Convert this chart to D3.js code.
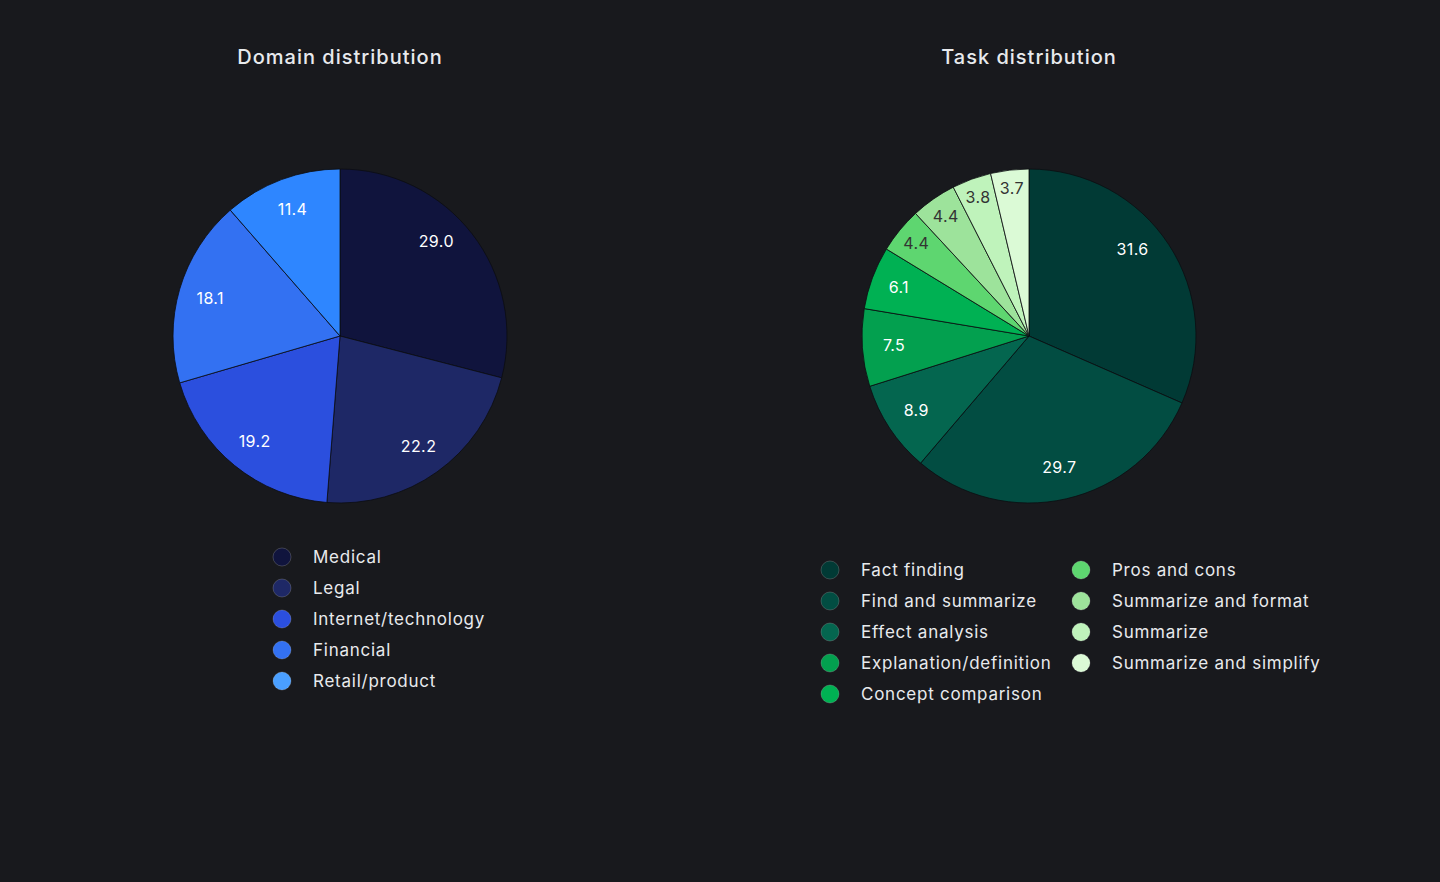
<!DOCTYPE html>
<html>
<head>
<meta charset="utf-8">
<script src="https://cdn.jsdelivr.net/npm/d3@7"></script>
<style>
  body { margin: 0; background: #18191d; }
  svg { display: block; }
  text { font-family: "Inter", "Noto Sans", sans-serif; }
</style>
</head>
<body>
<div id="chart"></div>
<script>
// Domain data
var domainNames = ["Medical", "Legal", "Internet/technology", "Financial", "Retail/product"];
var domainValues = [29.0, 22.2, 19.2, 18.1, 11.4];
var domainColors = ["#10143d", "#1e2866", "#2b4fde", "#3371f2", "#2e86ff"];

// Task data
var taskNames = ["Fact finding", "Find and summarize", "Effect analysis", "Explanation/definition",
  "Concept comparison", "Pros and cons", "Summarize and format", "Summarize", "Summarize and simplify"];
var taskValues = [31.6, 29.7, 8.9, 7.5, 6.1, 4.4, 4.4, 3.8, 3.7];
var taskColors = ["#013a35", "#024d42", "#04664f", "#03a04f", "#00b153", "#5ed670", "#9de39b", "#bff3bb", "#dbfad6"];

var svgWidth = 1440;
var svgHeight = 882;

var svg = d3.select("#chart")
  .append("svg")
  .attr("width", svgWidth)
  .attr("height", svgHeight);

var radius = 167;

function drawPie(cx, cy, title, names, values, colors) {
  var g = svg.append("g");

  g.append("text")
    .attr("x", cx)
    .attr("y", 64)
    .attr("text-anchor", "middle")
    .attr("fill", "#e8eaed")
    .attr("font-size", 20)
    .attr("font-weight", 500)
    .attr("letter-spacing", 1)
    .text(title);

  var pie = d3.pie().sort(null).value(d => d.value);
  var data = names.map((n, i) => ({ name: n, value: values[i], color: colors[i] }));
  var arcs = pie(data);

  var arc = d3.arc().innerRadius(0).outerRadius(radius);

  var pieGroup = g.append("g")
    .attr("transform", `translate(${cx}, ${cy})`);

  pieGroup.selectAll("path")
    .data(arcs)
    .enter()
    .append("path")
    .attr("d", arc)
    .attr("fill", d => d.data.color)
    .attr("stroke", "#0b0c10")
    .attr("stroke-width", 0.8);

  // labels: small slices pushed out a bit, big first slice pulled toward the top
  pieGroup.selectAll("text")
    .data(arcs)
    .enter()
    .append("text")
    .attr("transform", function (d, i) {
      var lr = radius * 0.81 + Math.max(0, 7 - d.data.value) * 4;
      var a = (d.startAngle + d.endAngle) / 2;
      if (i === 0) a -= 0.12;
      return `translate(${Math.sin(a) * lr}, ${-Math.cos(a) * lr})`;
    })
    .attr("text-anchor", "middle")
    .attr("dy", "0.35em")
    .attr("font-size", 16)
    .attr("letter-spacing", 0.4)
    .attr("fill", d => (d3.hsl(d.data.color).l > 0.6 ? "#333333" : "#ffffff"))
    .text(d => d.data.value.toFixed(1));
}

function drawLegend(x, y, names, colors, perCol, colGap) {
  var g = svg.append("g");
  var items = g.selectAll("g")
    .data(names)
    .enter()
    .append("g")
    .attr("transform", (d, i) => `translate(${x + Math.floor(i / perCol) * colGap}, ${y + (i % perCol) * 31})`);

  items.append("circle")
    .attr("r", 9)
    .attr("fill", (d, i) => colors[i])
    .attr("stroke", "rgba(255,255,255,0.18)")
    .attr("stroke-width", 1);

  items.append("text")
    .attr("x", 31)
    .attr("dy", "0.35em")
    .attr("font-size", 17)
    .attr("letter-spacing", 0.75)
    .attr("fill", "#e8eaed")
    .text(d => d);
}

drawPie(340, 336, "Domain distribution", domainNames, domainValues, domainColors);
drawPie(1029, 336, "Task distribution", taskNames, taskValues, taskColors);

drawLegend(282, 557, domainNames, ["#10143d", "#1e2866", "#2b4fde", "#3371f2", "#4a9fff"], 5, 0);
drawLegend(830, 570, taskNames, taskColors, 5, 251);
</script>
</body>
</html>
